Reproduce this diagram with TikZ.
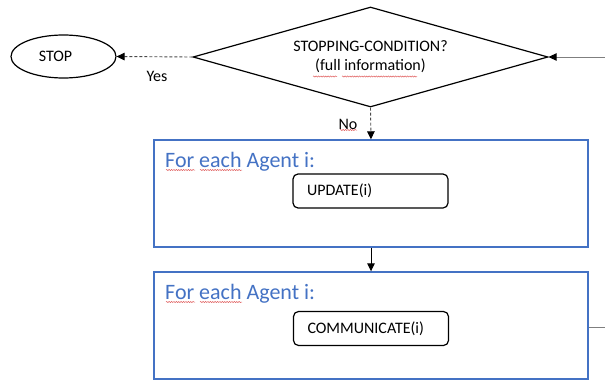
\documentclass[tikz,border=0pt]{standalone}
\usepackage{fontspec}
\setmainfont{Carlito}
\usetikzlibrary{shapes.geometric,arrows.meta,decorations.pathmorphing}
\definecolor{officeblue}{HTML}{4472C4}
\definecolor{linegray}{HTML}{7F7F7F}
\definecolor{dashgray}{HTML}{4A4A4A}
\definecolor{spellred}{HTML}{E06060}
\tikzset{
  tip/.style={-{Triangle[length=8pt,width=7.5pt,color=black]}},
  decision/.style={diamond,draw,line width=1.2pt,aspect=3.55,minimum width=355pt,minimum height=100pt,inner sep=0pt,align=center,font=\fontsize{16}{19}\selectfont},
  terminal/.style={ellipse,draw,line width=1.2pt,minimum width=105pt,minimum height=43pt,inner sep=0pt,font=\fontsize{16}{19}\selectfont},
  loopbox/.style={rectangle,draw=officeblue,line width=1.4pt,minimum width=434pt,minimum height=107pt,inner sep=0pt},
  loophead/.style={anchor=base west,text=officeblue,inner sep=0pt,font=\fontsize{22}{25}\selectfont},
  procbox/.style={rectangle,rounded corners=5pt,draw,line width=1.2pt,minimum height=34pt,text width=127pt,inner xsep=14pt,inner ysep=0pt,align=left,font=\fontsize{16}{19}\selectfont},
  lbl/.style={inner sep=0pt,font=\fontsize{16}{19}\selectfont},
  dashedflow/.style={tip,dashgray,line width=0.9pt,dash pattern=on 3pt off 2pt},
  solidflow/.style={tip,black,line width=0.9pt},
  feedback/.style={linegray,line width=1pt},
  spell/.style={spellred,line width=0.5pt,decorate,decoration={snake,amplitude=0.6pt,segment length=2.4pt}}
}
\begin{document}
\begin{tikzpicture}[x=1pt,y=-1pt]
\useasboundingbox (0,0) rectangle (605,380);
\node[terminal] (stop) at (63.5,56.5) {\kern-8pt STOP\kern8pt};
\node[decision] (cond) at (370.5,57) {STOPPING-CONDITION?\\(full information)};
\node[loopbox] (box1) at (371,193.5) {};
\node[loophead] (head1) at (165,167) {For each Agent i:};
\node[procbox] (upd) at (370.5,191) {UPDATE(i)};
\node[loopbox] (box2) at (371,325.5) {};
\node[loophead] (head2) at (165,299) {For each Agent i:};
\node[procbox] (com) at (371,328.5) {COMMUNICATE(i)};
\node[lbl] (yes) at (157,76) {Yes};
\node[lbl] (no) at (348,124) {No};
\coordinate (inR) at (605,57);
\coordinate (outR) at (605,327);
\draw[dashedflow] (cond.west) -- (stop.east);
\draw[dashedflow] (cond.south) -- (box1.north);
\draw[solidflow] (box1.south) -- (box2.north);
\draw[feedback,tip] (inR) -- (cond.east);
\draw[feedback] (box2.east |- outR) -- (outR);
% spell-check underlines
\draw[spell] (340,130) -- (357,130);
\draw[spell] (313,76.5) -- (337,76.5);
\draw[spell] (342,76.5) -- (417,76.5);
\draw[spell] (166,170) -- (195,170);
\draw[spell] (200,170) -- (242,170);
\draw[spell] (166,302) -- (195,302);
\draw[spell] (200,302) -- (242,302);
\end{tikzpicture}
\end{document}
